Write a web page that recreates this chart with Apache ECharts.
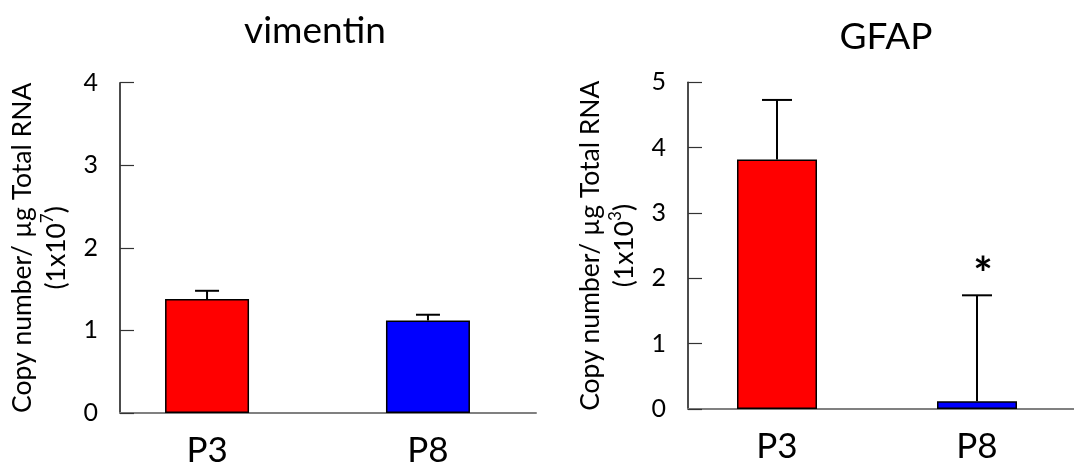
<!DOCTYPE html>
<html>
<head>
<meta charset="utf-8">
<script src="https://cdn.jsdelivr.net/npm/echarts@6/dist/echarts.min.js"></script>
<style>
html,body{margin:0;padding:0;background:#fff;}
#chart{width:1074px;height:468px;}
</style>
</head>
<body>
<div id="chart"></div>
<script>
// ---- data ----
const categories = ['P3', 'P8'];
const vimentinMean = [1.38, 1.12];
const vimentinSem = [0.10, 0.07];
const gfapMean = [3.82, 0.12];
const gfapSem = [0.91, 1.62];
const gfapSig = ['', '*'];
const vimentinSig = ['', ''];
const vimentinTicks = [0, 1, 2, 3, 4];
const gfapTicks = [0, 1, 2, 3, 4, 5];
const titles = ['vimentin', 'GFAP'];
const yNameLine1 = 'Copy number/ µg Total RNA';
const yExponents = ['7', '3'];

// ---- styles ----
const barColors = ['#ff0000', '#0000ff'];
const FONT = 'Lato';

const chart = echarts.init(document.getElementById('chart'), null, {renderer: 'canvas'});

function barData(means) {
  return means.map((v, i) => ({value: [i, v], itemStyle: {color: barColors[i]}}));
}
function errData(means, sems) {
  return means.map((v, i) => [i, v, sems[i]]);
}
function errRender(capW, sig) {
  return function (params, api) {
    const x = api.value(0), y = api.value(1), e = api.value(2);
    const base = api.coord([x, y]);
    const top = api.coord([x, y + e]);
    const children = [
      {type: 'line', shape: {x1: base[0], y1: base[1], x2: top[0], y2: top[1]}, style: {stroke: '#000', lineWidth: 2}},
      {type: 'line', shape: {x1: top[0] - capW / 2, y1: top[1], x2: top[0] + capW / 2, y2: top[1]}, style: {stroke: '#000', lineWidth: 2}}
    ];
    const s = sig[params.dataIndex];
    if (s) {
      children.push({type: 'text', style: {text: s, x: top[0] + 6, y: top[1] - 20, align: 'center', verticalAlign: 'middle', font: 'bold 46px ' + FONT, fill: '#000'}});
    }
    return {type: 'group', children: children};
  };
}
function yAxisCfg(gridIndex, ticks, exp) {
  return {
    type: 'value', gridIndex: gridIndex,
    min: ticks[0], max: ticks[ticks.length - 1], interval: 1,
    axisLine: {show: true, onZero: false, lineStyle: {color: '#111', width: 1.5}},
    axisTick: {show: true, inside: true, length: 14, lineStyle: {color: '#333', width: 1.2}},
    splitLine: {show: false},
    axisLabel: {fontFamily: FONT, fontSize: 25, color: '#000', margin: 22},
    name: '{a|' + yNameLine1 + '}\n{b|(1x10}{s|' + exp + '}{b|)}',
    nameLocation: 'middle', nameRotate: 90, nameGap: 47,
    nameTextStyle: {
      fontFamily: FONT, color: '#000', lineHeight: 34,
      rich: {
        a: {fontFamily: FONT, fontSize: 26.5, color: '#000', lineHeight: 34},
        b: {fontFamily: FONT, fontSize: 26.5, color: '#000', lineHeight: 34},
        s: {fontFamily: FONT, fontSize: 17, color: '#000', verticalAlign: 'top', lineHeight: 34}
      }
    }
  };
}
function xAxisCfg(gridIndex, min, max) {
  return {
    type: 'value', gridIndex: gridIndex, min: min, max: max,
    axisLine: {show: true, onZero: false, lineStyle: {color: '#808080', width: 2}},
    axisTick: {show: false},
    splitLine: {show: false},
    axisLabel: {
      customValues: categories.map((c, i) => i),
      formatter: v => categories[Math.round(v)] || '',
      fontFamily: FONT, fontSize: 35, color: '#000', margin: 20
    }
  };
}

chart.setOption({
  animation: false,
  backgroundColor: '#fff',
  title: [
    {text: titles[0], left: 310, top: 8, textAlign: 'center', textStyle: {fontFamily: FONT, fontSize: 37, fontWeight: 'normal', color: '#000'}},
    {text: titles[1], left: 881, top: 14, textAlign: 'center', textStyle: {fontFamily: FONT, fontSize: 37, fontWeight: 'normal', color: '#000'}}
  ],
  grid: [
    {left: 120, top: 82.7, width: 416, height: 333},
    {left: 688, top: 82.3, width: 386, height: 326.7}
  ],
  xAxis: [xAxisCfg(0, -0.394, 1.489), xAxisCfg(1, -0.445, 1.485)],
  yAxis: [yAxisCfg(0, vimentinTicks, yExponents[0]), yAxisCfg(1, gfapTicks, yExponents[1])],
  series: [
    {type: 'bar', xAxisIndex: 0, yAxisIndex: 0, barWidth: 84, data: barData(vimentinMean),
     itemStyle: {borderColor: '#000', borderWidth: 1.5}, z: 2},
    {type: 'custom', xAxisIndex: 0, yAxisIndex: 0, data: errData(vimentinMean, vimentinSem),
     renderItem: errRender(24, vimentinSig), z: 1},
    {type: 'bar', xAxisIndex: 1, yAxisIndex: 1, barWidth: 80, data: barData(gfapMean),
     itemStyle: {borderColor: '#000', borderWidth: 1.5}, z: 2},
    {type: 'custom', xAxisIndex: 1, yAxisIndex: 1, data: errData(gfapMean, gfapSem),
     renderItem: errRender(30, gfapSig), z: 1}
  ]
});
</script>
</body>
</html>
